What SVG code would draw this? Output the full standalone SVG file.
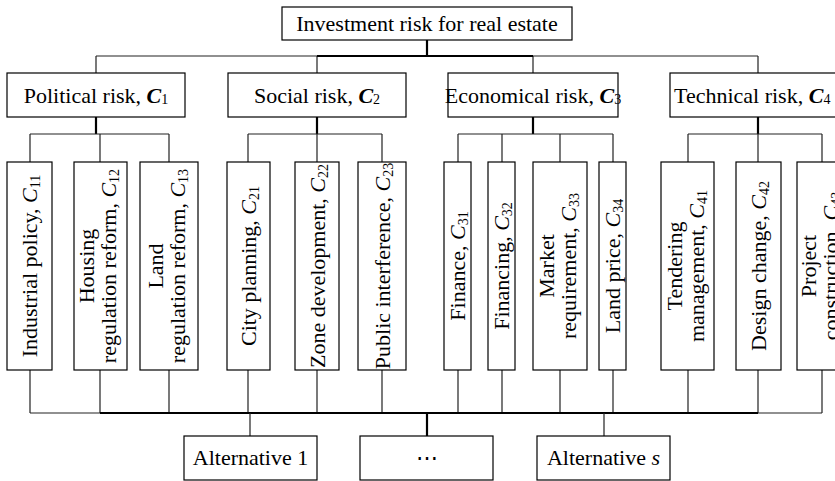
<svg xmlns="http://www.w3.org/2000/svg" width="835" height="481" viewBox="0 0 835 481">
<style>
.box{fill:#fff;stroke:#000;stroke-width:1.2}
.ln{fill:none;stroke:#222;stroke-width:1.2}
.thk{fill:none;stroke:#000;stroke-width:2.2}
text{font-family:"Liberation Serif","Times New Roman",serif;font-size:22px;fill:#000}
.c{font-style:italic}
.cb{font-style:italic;font-weight:bold}
.sub{font-size:14px}
</style>
<rect width="835" height="481" fill="#fff"/>
<g id="connectors">
<path class="thk" d="M427 40V56"/>
<path class="ln" d="M96 56H758M96 56V73M317 56V73M533 56V73M758 56V73"/>
<path class="thk" d="M317 56H533"/>
<path class="thk" d="M96 117V134M317 117V134M533 117V134M758 117V134"/>
<path class="ln" d="M30 134H169M248 134H382M458 134H613M688 134H822"/>
<path class="ln" d="M30 134V162M100 134V162M169 134V162M248 134V162M317 134V162M382 134V162M458 134V162M502 134V162M560 134V162M613 134V162M688 134V162M758 134V162M822 134V162"/>
<path class="ln" d="M30 370V413M100 370V413M169 370V413M248 370V413M317 370V413M382 370V413M458 370V413M502 370V413M560 370V413M613 370V413M688 370V413M758 370V413M822 370V413"/>
<path class="ln" d="M30 413H822"/>
<path class="thk" d="M100 413H758"/>
<path class="ln" d="M250 413V436M604 413V436"/>
<path class="thk" d="M427 413V436"/>
</g>
<g id="root"><rect class="box" x="282" y="7" width="290" height="33"/><text x="427" y="31" text-anchor="middle">Investment risk for real estate</text></g>
<g id="C1"><rect class="box" x="7" y="73" width="178" height="44"/><text x="96" y="103" text-anchor="middle">Political risk, <tspan class="cb">C</tspan><tspan class="sub" dy="1">1</tspan></text></g>
<g id="C2"><rect class="box" x="228" y="73" width="178" height="44"/><text x="317" y="103" text-anchor="middle">Social risk, <tspan class="cb">C</tspan><tspan class="sub" dy="1">2</tspan></text></g>
<g id="C3"><rect class="box" x="448" y="73" width="170" height="44"/><text x="533" y="103" text-anchor="middle">Economical risk, <tspan class="cb">C</tspan><tspan class="sub" dy="1">3</tspan></text></g>
<g id="C4"><rect class="box" x="670" y="73" width="178" height="44"/><text x="674" y="103">Technical risk, <tspan class="cb">C</tspan><tspan class="sub" dy="1">4</tspan></text></g>
<g id="C11"><rect class="box" x="7" y="162" width="45" height="208"/><text transform="translate(37,266) rotate(-90)" text-anchor="middle">Industrial policy, <tspan class="c">C</tspan><tspan class="sub" dy="3">11</tspan></text></g>
<g id="C12"><rect class="box" x="74" y="162" width="53" height="208"/><text transform="translate(105,266) rotate(-90)" text-anchor="middle"><tspan x="0" y="-11">Housing</tspan><tspan x="0" y="11">regulation reform, </tspan><tspan class="c">C</tspan><tspan class="sub" dy="3">12</tspan></text></g>
<g id="C13"><rect class="box" x="140" y="162" width="58" height="208"/><text transform="translate(174,266) rotate(-90)" text-anchor="middle"><tspan x="0" y="-11">Land</tspan><tspan x="0" y="11">regulation reform, </tspan><tspan class="c">C</tspan><tspan class="sub" dy="3">13</tspan></text></g>
<g id="C21"><rect class="box" x="227" y="162" width="43" height="208"/><text transform="translate(256,266) rotate(-90)" text-anchor="middle">City planning, <tspan class="c">C</tspan><tspan class="sub" dy="3">21</tspan></text></g>
<g id="C22"><rect class="box" x="295" y="162" width="44" height="208"/><text transform="translate(324.5,266) rotate(-90)" text-anchor="middle">Zone development, <tspan class="c">C</tspan><tspan class="sub" dy="3">22</tspan></text></g>
<g id="C23"><rect class="box" x="358" y="162" width="48" height="208"/><text transform="translate(389.5,266) rotate(-90)" text-anchor="middle">Public interference, <tspan class="c">C</tspan><tspan class="sub" dy="3">23</tspan></text></g>
<g id="C31"><rect class="box" x="444" y="162" width="27" height="208"/><text transform="translate(464.5,266) rotate(-90)" text-anchor="middle">Finance, <tspan class="c">C</tspan><tspan class="sub" dy="3">31</tspan></text></g>
<g id="C32"><rect class="box" x="488" y="162" width="27" height="208"/><text transform="translate(508.5,266) rotate(-90)" text-anchor="middle">Financing, <tspan class="c">C</tspan><tspan class="sub" dy="3">32</tspan></text></g>
<g id="C33"><rect class="box" x="533" y="162" width="54" height="208"/><text transform="translate(565,266) rotate(-90)" text-anchor="middle"><tspan x="0" y="-11">Market</tspan><tspan x="0" y="11">requirement, </tspan><tspan class="c">C</tspan><tspan class="sub" dy="3">33</tspan></text></g>
<g id="C34"><rect class="box" x="599" y="162" width="27" height="208"/><text transform="translate(619.5,266) rotate(-90)" text-anchor="middle">Land price, <tspan class="c">C</tspan><tspan class="sub" dy="3">34</tspan></text></g>
<g id="C41"><rect class="box" x="661" y="162" width="53" height="208"/><text transform="translate(692.5,266) rotate(-90)" text-anchor="middle"><tspan x="0" y="-11">Tendering</tspan><tspan x="0" y="11">management, </tspan><tspan class="c">C</tspan><tspan class="sub" dy="3">41</tspan></text></g>
<g id="C42"><rect class="box" x="736" y="162" width="45" height="208"/><text transform="translate(766,266) rotate(-90)" text-anchor="middle">Design change, <tspan class="c">C</tspan><tspan class="sub" dy="3">42</tspan></text></g>
<g id="C43"><rect class="box" x="797" y="162" width="50" height="208"/><text transform="translate(827,266) rotate(-90)" text-anchor="middle"><tspan x="0" y="-11">Project</tspan><tspan x="0" y="11">construction, </tspan><tspan class="c">C</tspan><tspan class="sub" dy="3">43</tspan></text></g>
<g id="A1"><rect class="box" x="184" y="436" width="133" height="44"/><text x="250.5" y="465" text-anchor="middle">Alternative 1</text></g>
<g id="Adots"><rect class="box" x="360" y="436" width="133" height="44"/><text x="426.5" y="465" text-anchor="middle">⋯</text></g>
<g id="As"><rect class="box" x="537" y="436" width="133" height="44"/><text x="603.5" y="465" text-anchor="middle">Alternative <tspan class="c">s</tspan></text></g>
</svg>
